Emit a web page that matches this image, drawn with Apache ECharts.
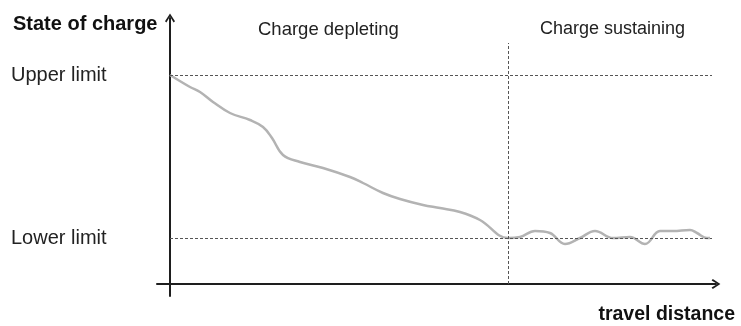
<!DOCTYPE html>
<html>
<head>
<meta charset="utf-8">
<script src="https://cdn.jsdelivr.net/npm/echarts@6/dist/echarts.min.js"></script>
<style>
  html, body { margin: 0; padding: 0; background: #fff; }
  #chart { width: 741px; height: 326px; }
</style>
</head>
<body>
<div id="chart"></div>
<script>
// state of charge over travel distance (schematic units)
const socPoints = [
  [0, 209], [20, 197], [30, 192], [43, 182], [60, 171], [80, 164], [93, 157],
  [102, 146], [113, 129], [130, 122], [153, 116], [180, 107], [193, 101],
  [213, 91], [230, 85], [253, 79], [270, 76], [290, 72], [310, 64], [338, 46],
  [350, 47], [365, 53], [380, 51], [395, 40], [410, 46], [425, 53], [443, 46],
  [460, 47], [475, 40], [490, 53], [503, 53], [520, 54], [527, 51], [537, 46], [540, 46]
];
const upperLimit = 209;
const lowerLimit = 46;
const switchPoint = 338;   // end of charge depleting phase
const limitLineEnd = 542;
const switchLineTop = 241;

const limitLabels = ['Lower limit', 'Upper limit'];

const chart = echarts.init(document.getElementById('chart'));

const arrow = 'path://M5,0 L10,7.6 L8.6,8.8 L5,3 L1.4,8.8 L0,7.6 Z';
const axisColor = '#1e1e1e';
const dashStyle = { color: '#555', width: 1, type: [3, 2] };

chart.setOption({
  animation: false,
  title: [
    { text: 'State of charge', left: 8, top: 9,
      textStyle: { fontFamily: 'Liberation Sans', fontSize: 20, fontWeight: 'bold', color: '#111' } },
    { text: 'Charge depleting', left: 253, top: 15,
      textStyle: { fontFamily: 'Liberation Sans', fontSize: 18.5, fontWeight: 'normal', color: '#222' } },
    { text: 'Charge sustaining', left: 535, top: 15,
      textStyle: { fontFamily: 'Liberation Sans', fontSize: 18, fontWeight: 'normal', color: '#222' } },
    { text: 'travel distance', right: 1, top: 300,
      textStyle: { fontFamily: 'Liberation Sans', fontSize: 19.5, fontWeight: 'bold', color: '#111' } }
  ],
  grid: { left: 157, right: 25, top: 18, bottom: 30, outerBoundsMode: 'none', containLabel: false },
  xAxis: {
    type: 'value', min: -13, max: 546,
    axisLine: { onZero: true, lineStyle: { color: axisColor, width: 2 },
      symbol: ['none', arrow], symbolSize: [10, 9] },
    axisTick: { show: false }, axisLabel: { show: false }, splitLine: { show: false }
  },
  yAxis: {
    type: 'value', min: -12, max: 266,
    axisLine: { onZero: true, lineStyle: { color: axisColor, width: 2 },
      symbol: ['none', arrow], symbolSize: [10, 9] },
    axisTick: { show: false },
    splitLine: { show: false },
    axisLabel: {
      customValues: [lowerLimit, upperLimit],
      formatter: (v) => (v === upperLimit ? limitLabels[1] : limitLabels[0]),
      align: 'left', margin: 146, verticalAlign: 'middle',
      fontFamily: 'Liberation Sans', fontSize: 20, color: '#222'
    }
  },
  series: [{
    type: 'line',
    data: socPoints,
    smooth: 0.4,
    showSymbol: false,
    lineStyle: { color: '#b3b3b3', width: 2.5 },
    z: 3,
    markLine: {
      silent: true, symbol: 'none', label: { show: false },
      lineStyle: dashStyle,
      data: [
        [{ coord: [0, upperLimit] }, { coord: [limitLineEnd, upperLimit] }],
        [{ coord: [0, lowerLimit] }, { coord: [limitLineEnd, lowerLimit] }],
        [{ coord: [switchPoint, 0] }, { coord: [switchPoint, switchLineTop] }]
      ]
    }
  }]
});
</script>
</body>
</html>
